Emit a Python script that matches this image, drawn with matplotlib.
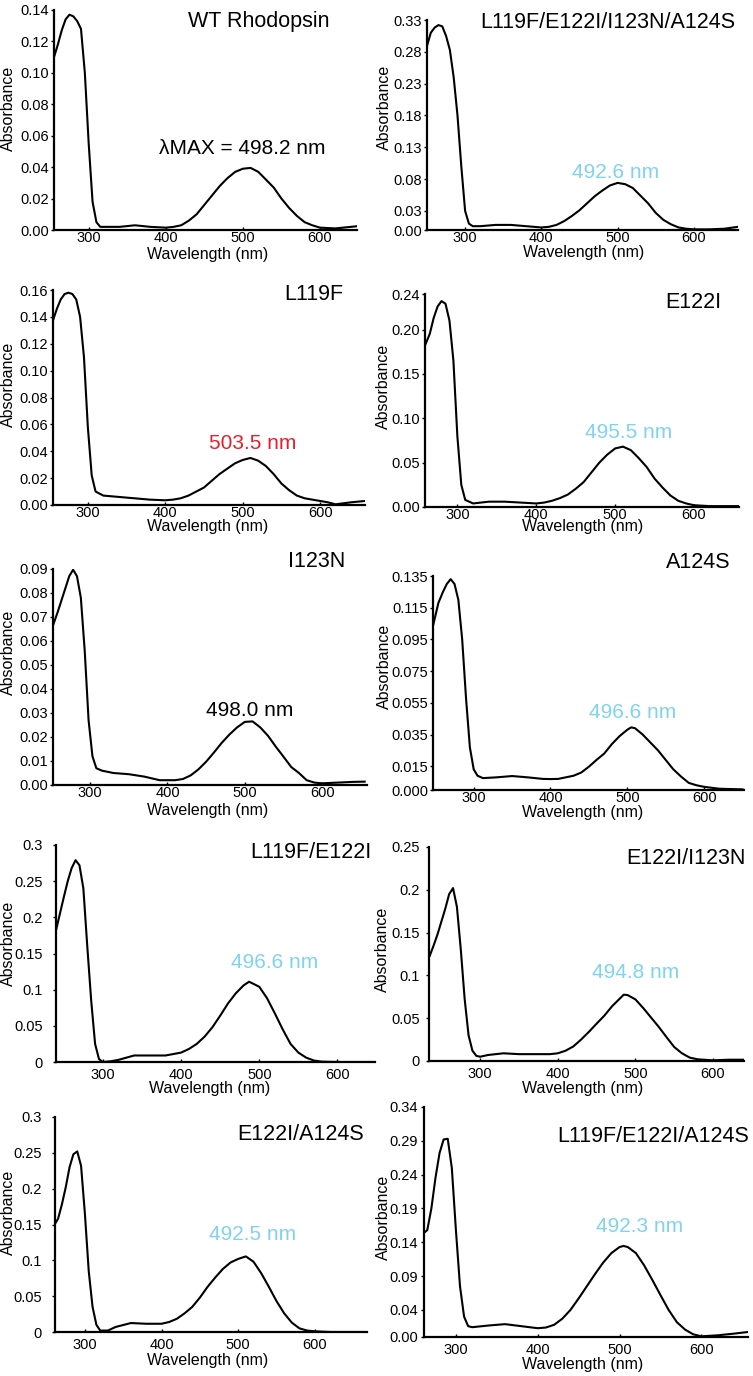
import matplotlib
matplotlib.use('Agg')
import matplotlib.pyplot as plt

plt.rcParams['font.family'] = ['Liberation Sans', 'DejaVu Sans']

# ---- data (wavelength nm, absorbance) ----
names = ['WT Rhodopsin', 'L119F/E122I/I123N/A124S', 'L119F', 'E122I', 'I123N',
         'A124S', 'L119F/E122I', 'E122I/I123N', 'E122I/A124S', 'L119F/E122I/A124S']
lmax_labels = ['\u03bbMAX = 498.2 nm', '492.6 nm', '503.5 nm', '495.5 nm', '498.0 nm',
               '496.6 nm', '496.6 nm', '494.8 nm', '492.5 nm', '492.3 nm']

wl_wt = [255, 260, 265, 270, 275, 280, 285, 290, 295, 300, 305, 310, 315, 320, 340, 360, 380,
         400, 410, 420, 430, 440, 450, 460, 470, 480, 490, 500, 510, 520, 530, 540, 550, 560,
         570, 580, 590, 600, 620, 640, 650]
ab_wt = [0.110, 0.118, 0.127, 0.134, 0.137, 0.136, 0.133, 0.128, 0.100, 0.055, 0.018, 0.005,
         0.002, 0.002, 0.002, 0.003, 0.002, 0.0015, 0.002, 0.003, 0.006, 0.010, 0.016, 0.022,
         0.028, 0.033, 0.037, 0.039, 0.0395, 0.037, 0.032, 0.027, 0.020, 0.014, 0.009, 0.005,
         0.003, 0.0015, 0.001, 0.002, 0.0025]

wl_quad = [249, 255, 260, 265, 270, 275, 280, 285, 290, 295, 300, 305, 310, 320, 340, 360, 380,
           400, 410, 420, 430, 440, 450, 460, 470, 480, 490, 500, 510, 520, 530, 540, 550, 560,
           570, 580, 590, 600, 620, 640, 658]
ab_quad = [0.285, 0.310, 0.318, 0.322, 0.320, 0.305, 0.283, 0.240, 0.180, 0.100, 0.030, 0.010,
           0.006, 0.006, 0.008, 0.008, 0.006, 0.004, 0.005, 0.008, 0.014, 0.022, 0.031, 0.042,
           0.053, 0.062, 0.070, 0.074, 0.072, 0.066, 0.054, 0.042, 0.027, 0.016, 0.009, 0.004,
           0.002, 0.001, 0.001, 0.002, 0.005]

wl_l119f = [253, 260, 265, 270, 275, 280, 285, 290, 295, 300, 305, 310, 320, 340, 360, 380, 400,
            410, 420, 430, 440, 450, 460, 470, 480, 490, 500, 510, 520, 530, 540, 550, 560, 570,
            580, 590, 600, 610, 620, 640, 658]
ab_l119f = [0.134, 0.146, 0.153, 0.157, 0.158, 0.157, 0.153, 0.140, 0.110, 0.058, 0.022, 0.010,
            0.007, 0.006, 0.005, 0.004, 0.0035, 0.004, 0.005, 0.007, 0.010, 0.013, 0.018, 0.023,
            0.027, 0.031, 0.0335, 0.035, 0.033, 0.029, 0.023, 0.016, 0.011, 0.007, 0.005, 0.004,
            0.003, 0.002, 0.0005, 0.002, 0.003]

wl_e122i = [259, 265, 270, 275, 280, 285, 290, 295, 300, 305, 310, 320, 340, 360, 380, 400, 410,
            420, 430, 440, 450, 460, 470, 480, 490, 500, 510, 520, 530, 540, 550, 560, 570, 580,
            590, 600, 620, 640, 657]
ab_e122i = [0.182, 0.195, 0.213, 0.226, 0.232, 0.229, 0.210, 0.165, 0.080, 0.025, 0.008, 0.004,
            0.006, 0.006, 0.005, 0.004, 0.005, 0.007, 0.010, 0.014, 0.0205, 0.028, 0.039, 0.050,
            0.059, 0.066, 0.068, 0.064, 0.055, 0.045, 0.032, 0.022, 0.013, 0.007, 0.004, 0.002,
            0.001, 0.001, 0.001]

wl_i123n = [252, 258, 263, 268, 273, 278, 283, 288, 293, 298, 303, 308, 315, 330, 350, 370, 390,
            410, 420, 430, 440, 450, 460, 470, 480, 490, 500, 510, 520, 530, 540, 550, 560, 570,
            580, 590, 600, 620, 640, 655]
ab_i123n = [0.0665, 0.072, 0.077, 0.082, 0.087, 0.0897, 0.087, 0.078, 0.056, 0.027, 0.012, 0.007,
            0.006, 0.005, 0.0045, 0.0035, 0.002, 0.002, 0.0025, 0.004, 0.0065, 0.0097, 0.0135,
            0.0175, 0.021, 0.024, 0.0263, 0.0265, 0.024, 0.0205, 0.016, 0.0118, 0.0075, 0.005,
            0.002, 0.001, 0.0007, 0.001, 0.0013, 0.0014]

wl_a124s = [247, 254, 260, 265, 270, 275, 280, 285, 290, 295, 300, 305, 312, 330, 350, 370, 390,
            400, 410, 420, 430, 440, 450, 460, 470, 480, 490, 500, 505, 510, 520, 530, 540, 550,
            560, 570, 580, 590, 600, 620, 650]
ab_a124s = [0.1035, 0.118, 0.125, 0.130, 0.133, 0.130, 0.120, 0.095, 0.058, 0.027, 0.013, 0.009,
            0.0075, 0.008, 0.0088, 0.008, 0.007, 0.0069, 0.007, 0.008, 0.009, 0.011, 0.0147,
            0.019, 0.023, 0.029, 0.034, 0.038, 0.0395, 0.039, 0.035, 0.030, 0.025, 0.019, 0.013,
            0.0085, 0.0045, 0.003, 0.002, 0.0008, 0.0004]

wl_le = [240, 245, 250, 255, 260, 265, 270, 275, 280, 285, 290, 295, 300, 310, 320, 340, 360, 380,
         400, 410, 420, 430, 440, 450, 460, 470, 480, 487, 500, 510, 520, 530, 540, 550, 560,
         570, 580, 600, 620, 648]
ab_le = [0.182, 0.205, 0.228, 0.250, 0.268, 0.279, 0.272, 0.240, 0.160, 0.085, 0.025, 0.004, 0.0,
         0.001, 0.003, 0.009, 0.009, 0.009, 0.013, 0.018, 0.025, 0.035, 0.048, 0.064, 0.081,
         0.095, 0.106, 0.111, 0.104, 0.088, 0.067, 0.045, 0.025, 0.013, 0.006, 0.002, 0.0005,
         0.0, 0.0, 0.0]

wl_ei = [235, 240, 245, 250, 255, 260, 265, 270, 275, 280, 285, 290, 295, 300, 310, 330, 350, 370,
         390, 400, 410, 420, 430, 440, 450, 460, 470, 480, 485, 490, 500, 510, 520, 530, 540,
         550, 560, 570, 580, 600, 620, 640]
ab_ei = [0.123, 0.135, 0.148, 0.163, 0.178, 0.195, 0.202, 0.180, 0.130, 0.072, 0.030, 0.012,
         0.006, 0.005, 0.007, 0.009, 0.008, 0.008, 0.008, 0.009, 0.012, 0.017, 0.025, 0.034,
         0.0436, 0.053, 0.064, 0.073, 0.0775, 0.077, 0.072, 0.062, 0.051, 0.040, 0.028, 0.0164,
         0.009, 0.004, 0.002, 0.0008, 0.0015, 0.0015]

wl_ea = [261, 265, 270, 275, 280, 285, 290, 295, 300, 305, 310, 315, 320, 330, 340, 360, 380, 400,
         410, 420, 430, 440, 450, 460, 470, 480, 490, 500, 510, 520, 530, 540, 550, 560, 570,
         580, 590, 600, 620, 640, 665]
ab_ea = [0.151, 0.158, 0.178, 0.202, 0.230, 0.248, 0.252, 0.232, 0.165, 0.085, 0.035, 0.010,
         0.002, 0.002, 0.007, 0.0125, 0.0115, 0.0115, 0.014, 0.0185, 0.026, 0.035, 0.048, 0.063,
         0.076, 0.088, 0.097, 0.102, 0.1055, 0.098, 0.082, 0.063, 0.043, 0.026, 0.013, 0.005,
         0.002, 0.001, 0.0, 0.0, 0.0]

wl_lea = [261, 265, 270, 275, 280, 285, 290, 295, 300, 305, 310, 315, 320, 340, 360, 380, 400, 410,
          420, 430, 440, 450, 460, 470, 480, 490, 500, 505, 510, 520, 530, 540, 550, 560, 570,
          580, 590, 600, 620, 640, 657]
ab_lea = [0.154, 0.158, 0.190, 0.235, 0.272, 0.292, 0.293, 0.250, 0.158, 0.075, 0.030, 0.016,
          0.0145, 0.017, 0.019, 0.016, 0.013, 0.014, 0.018, 0.027, 0.040, 0.057, 0.075, 0.093,
          0.110, 0.124, 0.133, 0.1346, 0.133, 0.124, 0.106, 0.0845, 0.062, 0.040, 0.022, 0.011,
          0.004, 0.001, 0.0025, 0.005, 0.0074]

curves = [(wl_wt, ab_wt), (wl_quad, ab_quad), (wl_l119f, ab_l119f), (wl_e122i, ab_e122i),
          (wl_i123n, ab_i123n), (wl_a124s, ab_a124s), (wl_le, ab_le), (wl_ei, ab_ei),
          (wl_ea, ab_ea), (wl_lea, ab_lea)]

yticks = [['0.00', '0.02', '0.04', '0.06', '0.08', '0.10', '0.12', '0.14'],
          ['0.00', '0.03', '0.08', '0.13', '0.18', '0.23', '0.28', '0.33'],
          ['0.00', '0.02', '0.04', '0.06', '0.08', '0.10', '0.12', '0.14', '0.16'],
          ['0.00', '0.05', '0.10', '0.15', '0.20', '0.24'],
          ['0.00', '0.01', '0.02', '0.03', '0.04', '0.05', '0.06', '0.07', '0.08', '0.09'],
          ['0.000', '0.015', '0.035', '0.055', '0.075', '0.095', '0.115', '0.135'],
          ['0', '0.05', '0.1', '0.15', '0.2', '0.25', '0.3'],
          ['0', '0.05', '0.1', '0.15', '0.2', '0.25'],
          ['0', '0.05', '0.1', '0.15', '0.2', '0.25', '0.3'],
          ['0.00', '0.04', '0.09', '0.14', '0.19', '0.24', '0.29', '0.34']]
xticks = [300, 400, 500, 600]
xlims = [(255, 648), (250, 658), (255, 658), (259, 657), (252, 658),
         (247, 652), (240, 648), (234, 640), (261, 668), (261, 657)]

# ---- layout (pixels) ----
W, H = 753, 1376
# left, top, right, bottom of each axes
boxes = [(54, 10, 357, 230), (427, 20, 738, 230),
         (53, 290, 365, 505), (425, 294, 739, 507),
         (53, 569, 367, 785), (433, 576, 744, 790),
         (56, 845, 375, 1062), (429, 847, 744, 1061),
         (55, 1117, 367, 1332), (424, 1107, 748, 1337)]
title_xy = [(259, 22), (608, 22), (314, 295), (693, 302), (317, 562),
            (698, 563), (311, 852), (686, 858), (301, 1135), (653, 1137)]
note_xy = [(242, 148), (616, 172), (253, 443), (629, 433), (250, 710),
           (633, 713), (275, 963), (636, 972), (253, 1235), (640, 1227)]
ylab_xy = [(8, 108), (384, 107), (8, 384), (383, 386), (8, 652),
           (384, 666), (8, 943), (382, 949), (8, 1212), (383, 1217)]
xlab_xy = [(208, 254), (584, 252), (208, 527), (583, 527), (208, 810),
           (583, 812), (210, 1089), (583, 1089), (208, 1361), (583, 1364)]
blue = '#7fd3ef'
note_colors = ['black', blue, '#e5202b', blue, 'black', blue, blue, blue, blue, blue]
ytick_pad = [1, 1, 1, 1, 1, 1, 7, 4, 7, 2]
xtick_pad = [0.5, 0.5, 0.5, 0.5, 0.5, 0.5, 4, 4, 4, 4]

fig = plt.figure(figsize=(W / 100, H / 100), dpi=100)

for i in range(10):
    l, t, r, b = boxes[i]
    ax = fig.add_axes([l / W, 1 - b / H, (r - l) / W, (b - t) / H])
    wl, ab = curves[i]
    ax.plot(wl, ab, color='black', lw=1.5, solid_joinstyle='round')
    yv = [float(s) for s in yticks[i]]
    ax.set_xlim(*xlims[i])
    ax.set_ylim(0, yv[-1])
    ax.set_yticks(yv)
    ax.set_yticklabels(yticks[i])
    ax.set_xticks(xticks)
    for s in ['top', 'right']:
        ax.spines[s].set_visible(False)
    for s in ['left', 'bottom']:
        ax.spines[s].set_linewidth(1.6)
    ax.tick_params(axis='y', direction='out', length=2.5, width=1, pad=ytick_pad[i], labelsize=10.5)
    ax.tick_params(axis='x', direction='in', length=2.5, width=1, pad=xtick_pad[i], labelsize=10.5)
    ax.patch.set_alpha(0)

    fig.text(title_xy[i][0] / W, 1 - title_xy[i][1] / H, names[i], fontsize=15.5,
             ha='center', va='center')
    fig.text(note_xy[i][0] / W, 1 - note_xy[i][1] / H, lmax_labels[i], fontsize=15,
             ha='center', va='center', color=note_colors[i])
    fig.text(ylab_xy[i][0] / W, 1 - ylab_xy[i][1] / H, 'Absorbance', fontsize=11.5,
             rotation=90, ha='center', va='center')
    fig.text(xlab_xy[i][0] / W, 1 - xlab_xy[i][1] / H, 'Wavelength (nm)', fontsize=11.5,
             ha='center', va='center')

fig.savefig('out.png', dpi=100)
